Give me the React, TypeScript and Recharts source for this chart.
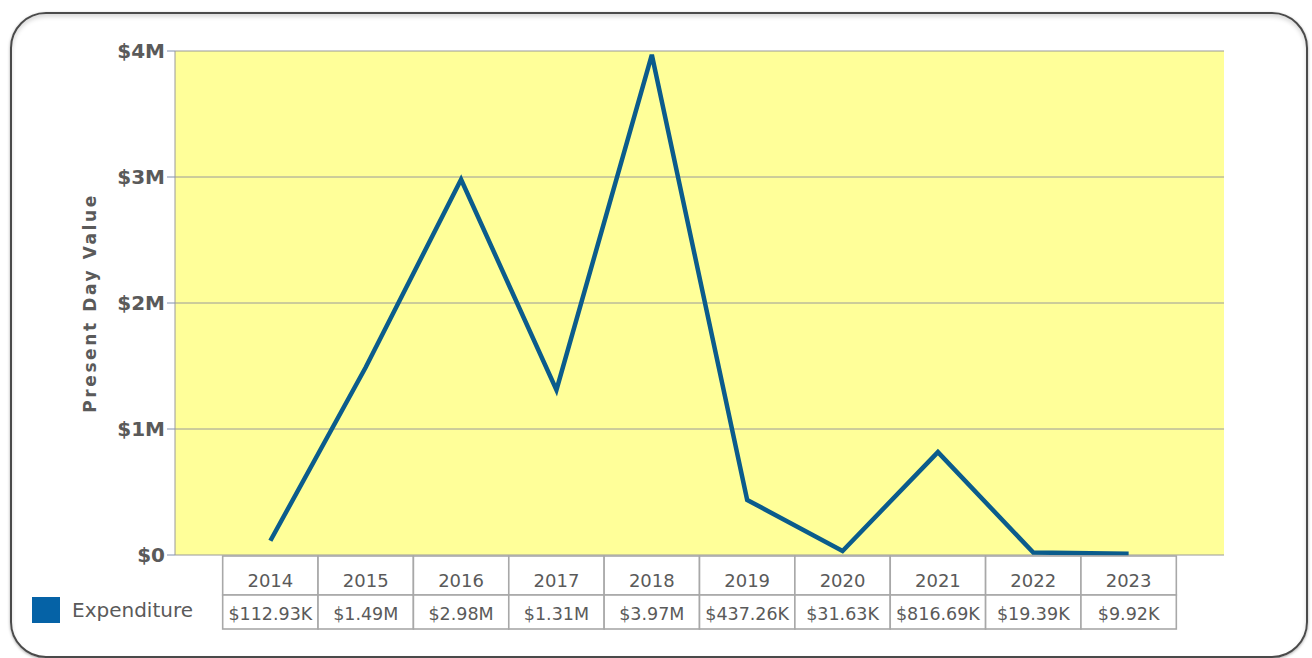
import { LineChart, Line, XAxis, YAxis, CartesianGrid, Legend } from 'recharts';

const years = [2014, 2015, 2016, 2017, 2018, 2019, 2020, 2021, 2022, 2023];
const expenditure = [112930, 1490000, 2980000, 1310000, 3970000, 437260, 31630, 816690, 19390, 9920];
const yTicks = [0, 1000000, 2000000, 3000000, 4000000];

const data = years.map((year, i) => ({ year, expenditure: expenditure[i] }));

const FONT = '"DejaVu Sans", Verdana, sans-serif';
const TEXT = '#5a5a5a';
const LINE = '#0b5c8c';

// plot spans 11 year-slots (2013..2024), each table cell is one slot wide
const PLOT_LEFT = 175;
const PLOT_RIGHT = 1224;
const CELL_W = (PLOT_RIGHT - PLOT_LEFT) / 11;

const money = (v: number) =>
    v >= 1e6 ? `$${(v / 1e6).toFixed(2)}M` : `$${(v / 1e3).toFixed(2)}K`;

const yLabel = (v: number) => (v === 0 ? '$0' : `$${v / 1e6}M`);

const TableTick = ({ x, y, payload }: any) => {
    const i = years.indexOf(payload.value);
    const left = x - CELL_W / 2;
    return (
        <g>
            <rect x={left} y={y + 1} width={CELL_W} height={39} fill="#fff" stroke="#a8a8a8" strokeWidth={1.6} />
            <rect x={left} y={y + 40} width={CELL_W} height={34} fill="#fff" stroke="#a8a8a8" strokeWidth={1.6} />
            <text x={x} y={y + 32} textAnchor="middle" fill={TEXT} fontSize={18} fontFamily={FONT}>
                {payload.value}
            </text>
            <text x={x} y={y + 65} textAnchor="middle" fill={TEXT} fontSize={17.5} fontFamily={FONT}>
                {money(expenditure[i])}
            </text>
        </g>
    );
};

const AxisTitle = ({ viewBox }: any) => {
    const cx = viewBox.x + 15;
    const cy = viewBox.y + viewBox.height / 2;
    return (
        <text
            x={cx}
            y={cy}
            transform={`rotate(-90, ${cx}, ${cy})`}
            textAnchor="middle"
            dominantBaseline="central"
            fill={TEXT}
            fontSize={17}
            fontWeight="bold"
            letterSpacing={2.6}
            fontFamily={FONT}
        >
            Present Day Value
        </text>
    );
};

const LegendBox = () => (
    <div style={{ display: 'flex', alignItems: 'center', fontFamily: FONT }}>
        <div style={{ width: 28, height: 26, background: '#0562a6' }} />
        <span style={{ marginLeft: 12, fontSize: 20, color: TEXT }}>Expenditure</span>
    </div>
);

export default function App() {
    return (
        <div style={{ position: 'absolute', left: 0, top: 0, width: 1312, height: 658, background: '#fff', overflow: 'hidden' }}>
            <div
                style={{
                    position: 'absolute',
                    left: 10,
                    top: 12,
                    width: 1294,
                    height: 642,
                    border: '2px solid #4a4a4a',
                    borderRadius: 36,
                    boxShadow: 'inset 0 3px 4px rgba(0,0,0,0.15), 0 1px 3px rgba(0,0,0,0.35)',
                }}
            />
            <div style={{ position: 'absolute', left: 0, top: 0 }}>
                <LineChart
                    width={1312}
                    height={658}
                    data={data}
                    margin={{ top: 51, right: 1312 - PLOT_RIGHT, bottom: 0, left: PLOT_LEFT - 100 }}
                >
                    <CartesianGrid vertical={false} stroke="#9a9a9a" fill="#ffff99" />
                    <XAxis
                        dataKey="year"
                        type="number"
                        domain={[2013, 2024]}
                        ticks={years}
                        interval={0}
                        axisLine={false}
                        tickLine={false}
                        tickSize={0}
                        tickMargin={0}
                        height={103}
                        tick={<TableTick />}
                    />
                    <YAxis
                        width={100}
                        domain={[0, 4000000]}
                        ticks={yTicks}
                        tickFormatter={yLabel}
                        axisLine={{ stroke: '#9a9a9a' }}
                        tickLine={{ stroke: '#8090b0' }}
                        tickSize={8}
                        tickMargin={2}
                        tick={{ fill: TEXT, fontSize: 20, fontWeight: 'bold', fontFamily: FONT }}
                        label={<AxisTitle />}
                    />
                    <Legend
                        layout="horizontal"
                        verticalAlign="middle"
                        align="center"
                        content={<LegendBox />}
                        wrapperStyle={{ left: 32, top: 597, width: 200, height: 26 }}
                    />
                    <Line
                        type="linear"
                        dataKey="expenditure"
                        stroke={LINE}
                        strokeWidth={4.5}
                        dot={false}
                        isAnimationActive={false}
                    />
                </LineChart>
            </div>
        </div>
    );
}
